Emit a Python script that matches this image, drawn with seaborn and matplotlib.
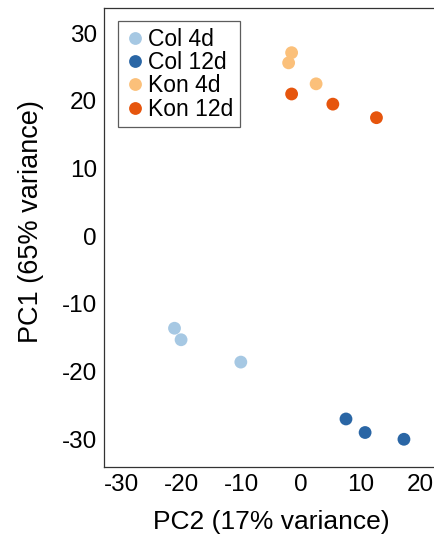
import matplotlib
matplotlib.use("Agg")
import matplotlib.pyplot as plt
import seaborn as sns
import pandas as pd

# PCA coordinates
groups = ["Col 4d", "Col 12d", "Kon 4d", "Kon 12d"]
pc2_col4 = [-21.2, -20.1, -10.1]
pc1_col4 = [-13.6, -15.3, -18.6]
pc2_col12 = [7.5, 10.7, 17.2]
pc1_col12 = [-27.0, -29.0, -30.0]
pc2_kon4 = [-1.6, -2.1, 2.5]
pc1_kon4 = [27.1, 25.6, 22.5]
pc2_kon12 = [-1.6, 5.3, 12.6]
pc1_kon12 = [21.0, 19.5, 17.5]
colors = ["#a6c8e3", "#2a66a5", "#fbc07a", "#e6550d"]

xticks = [-30, -20, -10, 0, 10, 20]
yticks = [-30, -20, -10, 0, 10, 20, 30]


def main():
    df = pd.DataFrame({
        "PC2": pc2_col4 + pc2_col12 + pc2_kon4 + pc2_kon12,
        "PC1": pc1_col4 + pc1_col12 + pc1_kon4 + pc1_kon12,
        "group": [g for g in groups for _ in range(3)],
    })

    sns.set_style("white")
    plt.rcParams["font.family"] = ["Liberation Sans", "DejaVu Sans"]
    plt.rcParams["axes.unicode_minus"] = False
    plt.rcParams["text.color"] = "black"
    plt.rcParams["axes.labelcolor"] = "black"

    fig = plt.figure(figsize=(4.34, 5.34), dpi=100)
    ax = fig.add_axes([104 / 434, 67.3 / 534, 334.6 / 434, 458.7 / 534])

    sns.scatterplot(data=df, x="PC2", y="PC1", hue="group", hue_order=groups,
                    palette=colors, s=85, linewidth=0, ax=ax, clip_on=False)

    ax.set_xlim(-33, 23)
    ax.set_ylim(-34.05, 33.7)
    ax.set_xticks(xticks)
    ax.set_yticks(yticks)
    ax.tick_params(direction="in", length=3, width=0.8, labelsize=17.5,
                   colors="#333333", labelcolor="black", pad=5)
    for sp in ax.spines.values():
        sp.set_color("#333333")
        sp.set_linewidth(0.9)

    ax.set_xlabel("PC2 (17% variance)", fontsize=19, labelpad=10)
    ax.set_ylabel("PC1 (65% variance)", fontsize=19.5)
    ax.yaxis.set_label_coords(-0.178, 0.534)

    leg = ax.legend(loc="upper left", bbox_to_anchor=(0.0418, 0.9717), fontsize=16.5,
                    frameon=True, fancybox=False, handletextpad=0.13,
                    borderpad=0.3, labelspacing=0.01, handlelength=0.88,
                    markerscale=1.0, borderaxespad=0)
    leg.get_frame().set_edgecolor("#333333")
    leg.get_frame().set_linewidth(0.9)
    for t in leg.get_texts():
        t.set_color("black")

    fig.savefig("out.png", dpi=100)


if __name__ == "__main__":
    main()
